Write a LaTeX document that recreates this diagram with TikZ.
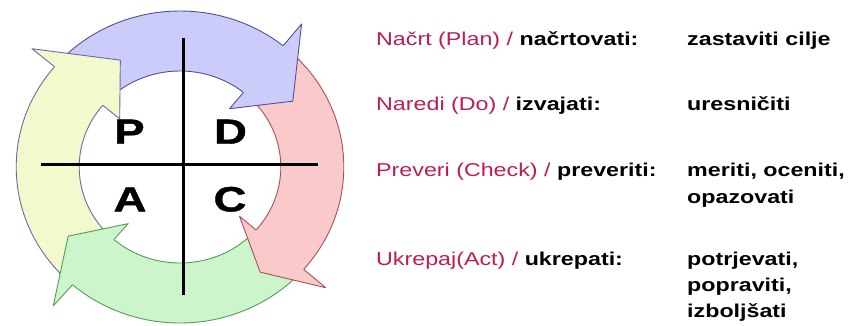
\documentclass[tikz,border=0pt]{standalone}
\usepackage{fontspec}
\setmainfont{Liberation Sans}[FakeStretch=1.25]
\newfontfamily\bigletters{Liberation Sans}[FakeStretch=1.3, BoldFeatures={FakeBold=1.2}]
\definecolor{bfill}{RGB}{204,204,250}
\definecolor{bline}{RGB}{80,80,150}
\definecolor{rfill}{RGB}{250,202,202}
\definecolor{rline}{RGB}{165,80,85}
\definecolor{gfill}{RGB}{204,245,204}
\definecolor{gline}{RGB}{85,155,85}
\definecolor{yfill}{RGB}{242,250,205}
\definecolor{yline}{RGB}{105,105,165}
\definecolor{pdcared}{RGB}{190,28,84}
\newcommand\txtfont{\fontsize{18.6}{24}\selectfont}
\tikzset{
  lbl/.style={anchor=base west, inner sep=0pt, font=\txtfont},
  letter/.style={inner sep=0pt, font=\bigletters\fontsize{35}{40}\selectfont\bfseries},
  crossline/.style={line width=3pt, black},
  outl/.style={line width=0.9pt, line join=round}
}
% body: #1 fill, #2 line, #3 tail angle, #4 base angle
\newcommand\pdcabody[4]{%
  \fill[#1] (#3:156) arc[start angle=#3, end angle=#4, radius=156] -- (#4:96)
     arc[start angle=#4, end angle=#3, radius=96] -- cycle;
  \draw[outl,#2] (#3:156) arc[start angle=#3, end angle=#4, radius=156];
  \draw[outl,#2] (#4:96) arc[start angle=#4, end angle=#3, radius=96];
}
% head: #1 fill, #2 line, #3 base angle, #4 tip angle, #5 tip radius
\newcommand\pdcahead[5]{%
  \fill[#1] (#3:156) -- (#3:184) -- (#4:#5) -- (#3:75) -- (#3:96) -- cycle;
  \draw[outl,#2] (#3:156) -- (#3:184) -- (#4:#5) -- (#3:75) -- (#3:96);
}
\begin{document}
\begin{tikzpicture}[x=1pt,y=-1pt]
\useasboundingbox (0,0) rectangle (848,325);
\begin{scope}[shift={(180,167)}, xscale=1.05, yscale=-1]
  \pdcabody{bfill}{bline}{136}{51}
  \pdcabody{rfill}{rline}{47}{-41}
  \pdcabody{gfill}{gline}{-45}{-131}
  \pdcabody{yfill}{yline}{225}{140}
  \pdcahead{bfill}{bline}{51}{31.5}{126}
  \pdcahead{rfill}{rline}{-41}{-54}{130}
  \pdcahead{gfill}{gline}{-131}{-147}{127}
  \pdcahead{yfill}{yline}{140}{118}{121}
\end{scope}
\coordinate (vt) at (183,38);
\coordinate (vb) at (183,295);
\coordinate (hl) at (41,164);
\coordinate (hr) at (318,164);
\draw[crossline] (vt) -- (vb);
\draw[crossline] (hl) -- (hr);
\node[letter] (P) at (129.5,131.7) {P};
\node[letter] (D) at (230.5,131.7) {D};
\node[letter] (A) at (130,199.3) {A};
\node[letter] (C) at (230,199.3) {C};
\node[lbl] (r1) at (376,45) {\textcolor{pdcared}{Načrt (Plan) / }\textbf{načrtovati:}};
\node[lbl] (r2) at (376,110) {\textcolor{pdcared}{Naredi (Do) / }\textbf{izvajati:}};
\node[lbl] (r3) at (376,176.7) {\textcolor{pdcared}{Preveri (Check) / }\textbf{preveriti:}};
\node[lbl] (r4) at (376,265) {\textcolor{pdcared}{Ukrepaj(Act) / }\textbf{ukrepati:}};
\node[lbl] (d1) at (687,45) {\textbf{zastaviti cilje}};
\node[lbl] (d2) at (687,110) {\textbf{uresničiti}};
\node[lbl] (d3a) at (687,176.7) {\textbf{meriti, oceniti,}};
\node[lbl] (d3b) at (687,203) {\textbf{opazovati}};
\node[lbl] (d4a) at (687,265) {\textbf{potrjevati,}};
\node[lbl] (d4b) at (687,291) {\textbf{popraviti,}};
\node[lbl] (d4c) at (687,317) {\textbf{izboljšati}};
\end{tikzpicture}
\end{document}
